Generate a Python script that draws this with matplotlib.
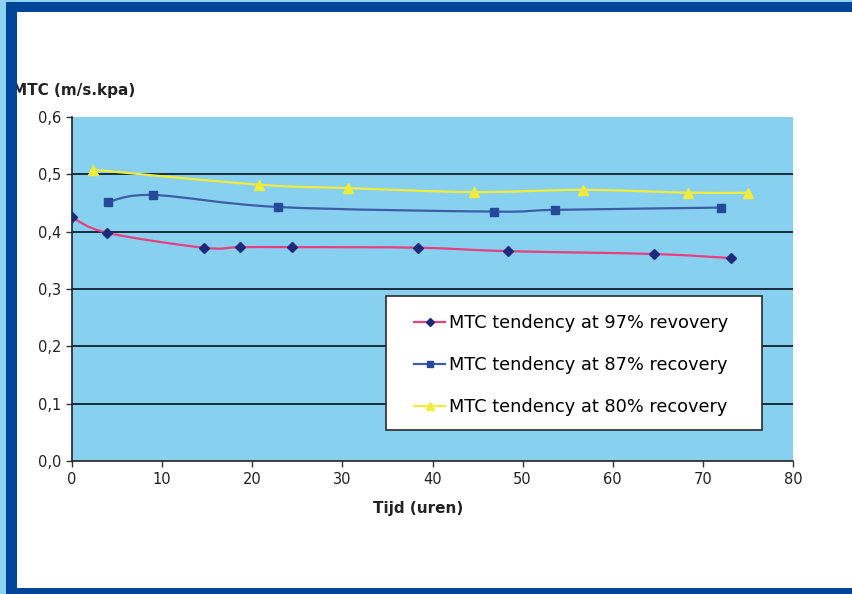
import numpy as np
from matplotlib import pyplot as plt
from matplotlib.path import Path
from matplotlib.patches import PathPatch, Rectangle
from matplotlib.lines import Line2D

plt.rcParams['font.family'] = ['DejaVu Sans']

# Tijd (uren) en MTC (m/s.kpa) per reeks
t_97 = [0, 3.9, 14.6, 18.6, 24.4, 38.4, 48.4, 64.6, 73.1]
mtc_97 = [0.425, 0.398, 0.372, 0.373, 0.373, 0.372, 0.366, 0.361, 0.354]
t_87 = [4.0, 9.0, 22.9, 46.8, 53.6, 72.0]
mtc_87 = [0.452, 0.464, 0.443, 0.435, 0.438, 0.442]
t_80 = [2.3, 20.7, 30.6, 44.6, 56.7, 68.4, 75.0]
mtc_80 = [0.508, 0.482, 0.476, 0.469, 0.473, 0.468, 0.468]

labels = ["MTC tendency at 97% revovery",
          "MTC tendency at 87% recovery",
          "MTC tendency at 80% recovery"]
x_ticks = [0, 10, 20, 30, 40, 50, 60, 70, 80]
y_ticks = [0.0, 0.1, 0.2, 0.3, 0.4, 0.5, 0.6]


def smooth_path(x, y):
    # Excel-achtige gladde lijn: Catmull-Rom als Bezier
    pts = np.column_stack([x, y])
    verts = [pts[0]]
    codes = [Path.MOVETO]
    n = len(pts)
    for i in range(n - 1):
        p0 = pts[i - 1] if i > 0 else pts[i]
        p1 = pts[i]
        p2 = pts[i + 1]
        p3 = pts[i + 2] if i + 2 < n else pts[i + 1]
        c1 = p1 + (p2 - p0) / 6.0
        c2 = p2 - (p3 - p1) / 6.0
        verts += [c1, c2, p2]
        codes += [Path.CURVE4] * 3
    return Path(verts, codes)


fig = plt.figure(figsize=(8.52, 5.94), dpi=100, facecolor='white')
W, H = 852, 594
AW, AH = 721, 344

ax = fig.add_axes([72 / W, 1 - 461 / H, AW / W, AH / H])
ax.set_facecolor('#88d0f0')
ax.set_xlim(0, 80)
ax.set_ylim(0, 0.6)

for v in y_ticks[1:-1]:
    ax.axhline(v, color='#1b2b3c', lw=1.4, zorder=1)

series = [
    (t_97, mtc_97, '#e8407f', 'D', '#1c2a7c', 5.5),
    (t_87, mtc_87, '#3d5ea6', 's', '#264a9a', 6),
    (t_80, mtc_80, '#f1ec3c', '^', '#f1ec3c', 7),
]
handles = []
for (x, y, lc, mk, mc, ms), lab in zip(series, labels):
    ax.add_patch(PathPatch(smooth_path(x, y), fill=False, edgecolor=lc,
                           lw=1.6, zorder=3))
    ax.plot(x, y, linestyle='none', marker=mk, color=mc, markersize=ms,
            markeredgecolor=mc, zorder=4)
    handles.append(Line2D([], [], color=lc, lw=1.6, marker=mk,
                          markerfacecolor=mc, markeredgecolor=mc,
                          markersize=ms - 1))

ax.set_xticks(x_ticks)
ax.set_xticklabels([str(v) for v in x_ticks])
ax.set_yticks(y_ticks)
ax.set_yticklabels([('%.1f' % v).replace('.', ',') for v in y_ticks])
ax.tick_params(direction='out', length=4, width=1, color='#333333',
               labelsize=10.5, labelcolor='#222222', pad=4)
for s in ['top', 'right']:
    ax.spines[s].set_visible(False)
for s in ['left', 'bottom']:
    ax.spines[s].set_color('#222222')
    ax.spines[s].set_linewidth(1.2)

# legendakader
ax.add_patch(Rectangle((314 / AW, 31 / AH), 376 / AW, 134 / AH,
                       transform=ax.transAxes, facecolor='white',
                       edgecolor='#2a2a2a', lw=1.2, zorder=5))
leg = ax.legend(handles, labels, loc='upper left',
                bbox_to_anchor=((414 - 72) / AW, (461 - 314) / AH),
                fontsize=12.8, frameon=False,
                handlelength=1.75, handletextpad=0.2, labelspacing=1.36,
                borderpad=0.0, borderaxespad=0.0)
leg.set_zorder(6)

fig.text(12 / W, 1 - 90 / H, "MTC (m/s.kpa)", fontsize=11, fontweight='bold',
         color='#222222', ha='left', va='center')
fig.text(418 / W, 1 - 509 / H, "Tijd (uren)", fontsize=11, fontweight='bold',
         color='#222222', ha='center', va='center')

# rand van de pagina
dark = '#02469a'
light = '#8fd4f2'
fig.patches.append(Rectangle((0, 0), 6 / W, 1, transform=fig.transFigure,
                             facecolor=light, edgecolor='none', zorder=10))
fig.patches.append(Rectangle((0, 1 - 2 / H), 1, 2 / H, transform=fig.transFigure,
                             facecolor=light, edgecolor='none', zorder=10))
fig.patches.append(Rectangle((6 / W, 0), 11 / W, 1 - 2 / H,
                             transform=fig.transFigure,
                             facecolor=dark, edgecolor='none', zorder=10))
fig.patches.append(Rectangle((6 / W, 1 - 12 / H), 1, 10 / H,
                             transform=fig.transFigure,
                             facecolor=dark, edgecolor='none', zorder=10))
fig.patches.append(Rectangle((6 / W, 0), 1, 6 / H, transform=fig.transFigure,
                             facecolor=dark, edgecolor='none', zorder=10))

fig.savefig('out.png', dpi=100, facecolor='white')
